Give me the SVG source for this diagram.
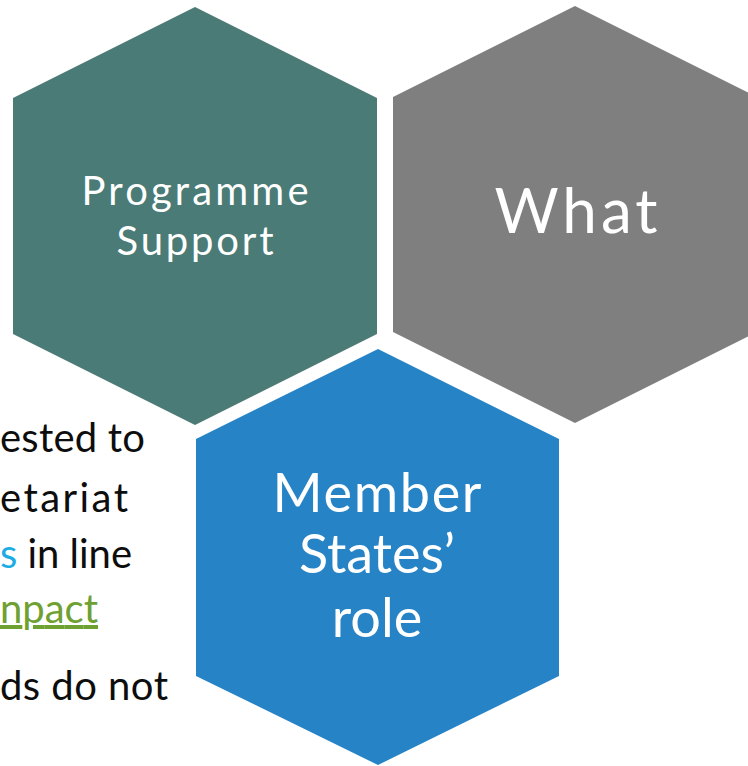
<svg xmlns="http://www.w3.org/2000/svg" width="748" height="766" viewBox="0 0 748 766">
<style>
.lbl{font-family:Lato,"Open Sans","Liberation Sans",sans-serif;fill:#fff;text-anchor:middle}
.body{font-family:Lato,"Open Sans","Liberation Sans",sans-serif;font-size:40px;fill:#0d0d0d}
</style>
<rect width="748" height="766" fill="#fff"/>
<g id="body-text">
<text class="body" x="0" y="452" textLength="145">ested to</text>
<text class="body" x="0" y="512" textLength="128">etariat</text>
<text class="body" x="0" y="568" textLength="132"><tspan style="fill:#1cade4">s</tspan> in line</text>
<text class="body" x="0" y="623" textLength="98" text-decoration="underline" style="fill:#6fa032">npact</text>
<text class="body" x="0" y="700" textLength="168">ds do not</text>
</g>
<g id="node-programme">
<polygon points="195,7 377,98 377,334 195,425 13,334 13,98" fill="#4a7b76"/>
<text class="lbl" x="195" y="205" font-size="40" textLength="227">Programme</text>
<text class="lbl" x="195" y="255" font-size="40" textLength="157">Support</text>
</g>
<g id="node-what">
<polygon points="575,6 757,97 757,332 575,423 393,332 393,97" fill="#7f7f7f"/>
<text class="lbl" x="576" y="233" font-size="62" textLength="163">What</text>
</g>
<g id="node-member">
<polygon points="378,349 559,439 559,676 378,765 196,676 196,439" fill="#2683c6"/>
<text class="lbl" x="377" y="512" font-size="54" textLength="209">Member</text>
<text class="lbl" x="377" y="573" font-size="54">States’</text>
<text class="lbl" x="377" y="637" font-size="54">role</text>
</g>
<g id="connectors"></g>
</svg>
